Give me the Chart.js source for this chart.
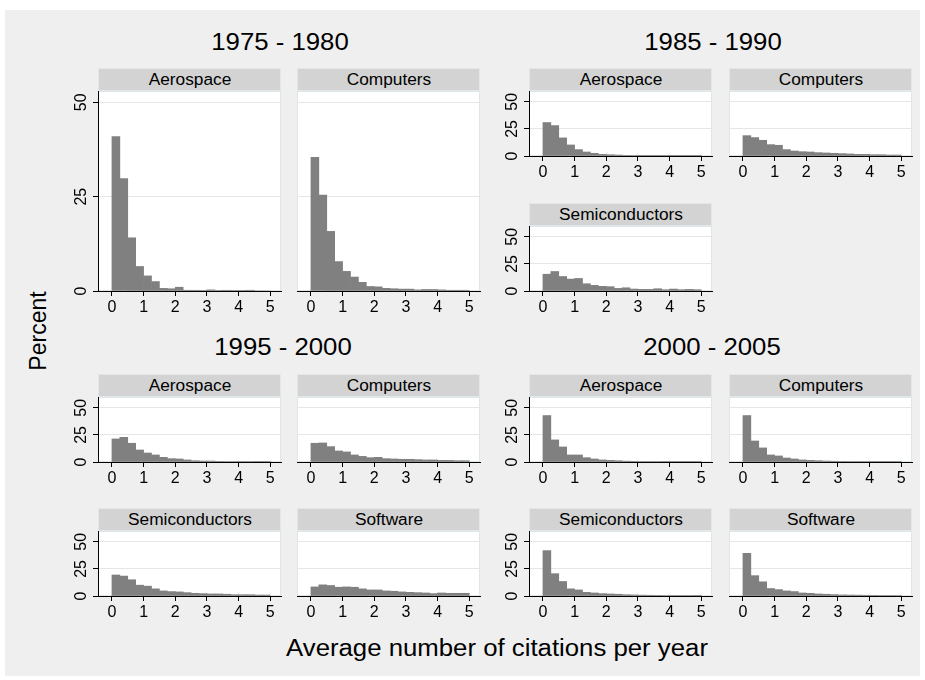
<!DOCTYPE html>
<html>
<head>
<meta charset="utf-8">
<title>Citations per year by industry</title>
<script src="https://cdn.jsdelivr.net/npm/chart.js@4.4.0/dist/chart.umd.min.js"></script>
<style>
  body { margin: 0; background: #fff; }
  #graph { position: absolute; left: 0; top: 0; width: 925px; height: 680px; background: #fff;
           font-family: Arial, "Liberation Sans", sans-serif; overflow: hidden; }
  #region { position: absolute; left: 5px; top: 10px; width: 915px; height: 666px; background: #efefef; }
  .txt { position: absolute; white-space: nowrap; color: #000; line-height: 1; }
  .strip { position: absolute; background: #d3d3d3; border: 1px solid #e2e8ea; box-sizing: border-box; }
  .strip span { position: absolute; left: 50%; top: 50%; white-space: nowrap; font-size: 16px; line-height: 1;
                transform: translate(-50%, -50%) scaleX(1.08); }
  canvas { position: absolute; }
</style>
</head>
<body>
<div id="graph"><div id="region"></div></div>
<script>
// histogram bins: 20 bins of width 0.25 on [0, 5]
const binStarts = [0, 0.25, 0.5, 0.75, 1, 1.25, 1.5, 1.75, 2, 2.25, 2.5, 2.75, 3, 3.25, 3.5, 3.75, 4, 4.25, 4.5, 4.75];
const binWidth = 0.25;
const xTicks = [0, 1, 2, 3, 4, 5];
const yTicks = [0, 25, 50];

const periods = ['1975 - 1980', '1985 - 1990', '1995 - 2000', '2000 - 2005'];
const industries = ['Aerospace', 'Computers', 'Semiconductors', 'Software'];

// percent of patents per bin
const aero7580 = [40.9, 29.8, 14.1, 6.5, 4.0, 2.5, 0.7, 0.6, 1.0, 0.2, 0.2, 0.1, 0.3, 0.1, 0.2, 0.1, 0.1, 0.2, 0.0, 0.0];
const comp7580 = [35.4, 25.4, 15.8, 7.8, 5.2, 3.7, 2.3, 1.2, 1.1, 0.7, 0.6, 0.5, 0.5, 0.3, 0.4, 0.4, 0.3, 0.2, 0.2, 0.2];

const aero8590 = [30.9, 28.1, 16.7, 10.2, 5.9, 3.7, 2.5, 1.5, 1.2, 0.9, 0.6, 0.4, 0.3, 0.3, 0.2, 0.2, 0.2, 0.2, 0.3, 0.1];
const comp8590 = [18.8, 17.0, 14.5, 10.5, 9.9, 5.9, 4.6, 4.0, 3.7, 3.1, 2.8, 2.5, 2.2, 1.9, 1.5, 1.5, 1.2, 1.2, 0.9, 0.9];
const semi8590 = [15.5, 18.0, 13.4, 11.0, 11.6, 6.7, 5.2, 4.3, 4.0, 2.4, 3.0, 1.8, 1.5, 1.5, 2.1, 1.2, 1.8, 1.2, 1.5, 1.2];

const aero9500 = [21.3, 22.8, 17.3, 11.1, 8.3, 6.5, 4.3, 3.1, 2.8, 1.9, 1.2, 0.9, 0.9, 0.6, 0.5, 0.5, 0.4, 0.4, 0.3, 0.3];
const comp9500 = [17.3, 17.6, 14.2, 10.2, 9.3, 6.5, 5.2, 4.0, 4.3, 3.1, 2.8, 2.5, 2.5, 2.2, 1.9, 1.9, 1.5, 1.5, 1.2, 1.2];
const semi9500 = [19.4, 18.4, 15.0, 10.0, 9.1, 6.6, 4.7, 4.1, 3.8, 3.1, 2.5, 2.2, 1.9, 1.9, 1.6, 1.2, 1.2, 1.2, 0.9, 0.9];
const soft9500 = [8.4, 10.3, 9.7, 8.1, 8.4, 8.1, 6.6, 5.6, 5.6, 4.7, 4.4, 3.8, 3.4, 3.1, 2.8, 2.2, 2.8, 2.5, 2.5, 2.5];

const aero0005 = [42.9, 20.4, 13.9, 6.5, 6.5, 4.0, 2.8, 1.9, 1.5, 1.2, 0.8, 0.6, 0.5, 0.4, 0.4, 0.3, 0.3, 0.3, 0.2, 0.2];
const comp0005 = [42.9, 19.4, 13.0, 6.5, 5.6, 3.7, 2.8, 1.9, 1.5, 1.2, 0.9, 0.7, 0.6, 0.5, 0.4, 0.4, 0.3, 0.3, 0.3, 0.2];
const semi0005 = [41.9, 20.6, 13.4, 6.6, 5.6, 3.4, 2.8, 2.2, 1.9, 1.6, 1.2, 1.0, 0.8, 0.7, 0.6, 0.5, 0.5, 0.4, 0.4, 0.3];
const soft0005 = [39.4, 18.8, 13.1, 6.9, 5.9, 4.7, 4.1, 2.8, 2.5, 1.9, 1.6, 1.3, 1.0, 0.9, 0.8, 0.7, 0.6, 0.5, 0.5, 0.4];

const barColor = '#808080';
const gridColor = '#e6e6e6';
const fontFamily = 'Arial, "Liberation Sans", sans-serif';

// plot rectangles (left, top, width, height) for each small multiple
const panels = [
  { name: industries[0], values: aero7580, left: 98,  top: 91,  w: 183, h: 200, ymax: 53, yAxis: true },
  { name: industries[1], values: comp7580, left: 297, top: 91,  w: 183, h: 200, ymax: 53, yAxis: false },
  { name: industries[0], values: aero8590, left: 529, top: 91,  w: 183, h: 65,  ymax: 60, yAxis: true },
  { name: industries[1], values: comp8590, left: 729, top: 91,  w: 183, h: 65,  ymax: 60, yAxis: false },
  { name: industries[2], values: semi8590, left: 529, top: 226, w: 183, h: 65,  ymax: 60, yAxis: true },
  { name: industries[0], values: aero9500, left: 98,  top: 397, w: 183, h: 65,  ymax: 60, yAxis: true },
  { name: industries[1], values: comp9500, left: 297, top: 397, w: 183, h: 65,  ymax: 60, yAxis: false },
  { name: industries[2], values: semi9500, left: 98,  top: 531, w: 183, h: 65,  ymax: 60, yAxis: true },
  { name: industries[3], values: soft9500, left: 297, top: 531, w: 183, h: 65,  ymax: 60, yAxis: false },
  { name: industries[0], values: aero0005, left: 529, top: 397, w: 183, h: 65,  ymax: 60, yAxis: true },
  { name: industries[1], values: comp0005, left: 729, top: 397, w: 183, h: 65,  ymax: 60, yAxis: false },
  { name: industries[2], values: semi0005, left: 529, top: 531, w: 183, h: 65,  ymax: 60, yAxis: true },
  { name: industries[3], values: soft0005, left: 729, top: 531, w: 183, h: 65,  ymax: 60, yAxis: false }
];

const graph = document.getElementById('graph');

function addText(str, cx, cy, size, extra) {
  const d = document.createElement('div');
  d.className = 'txt';
  d.textContent = str;
  d.style.left = cx + 'px';
  d.style.top = cy + 'px';
  d.style.fontSize = size + 'px';
  d.style.transform = 'translate(-50%, -50%) ' + (extra || '');
  graph.appendChild(d);
}

addText(periods[0], 280, 42, 23, 'scaleX(1.12)');
addText(periods[1], 713, 42, 23, 'scaleX(1.12)');
addText(periods[2], 283, 347, 23, 'scaleX(1.12)');
addText(periods[3], 712, 347, 23, 'scaleX(1.12)');
addText('Percent', 38, 331, 23, 'rotate(-90deg)');
addText('Average number of citations per year', 497, 648, 23, 'scaleX(1.12)');

// white plot region behind the bars
const plotBg = {
  id: 'plotBg',
  beforeDraw(chart) {
    const { ctx, chartArea: a } = chart;
    ctx.save();
    ctx.fillStyle = '#fff';
    ctx.fillRect(a.left, a.top, a.right - a.left, a.bottom - a.top);
    ctx.strokeStyle = '#dfe6e9';
    ctx.lineWidth = 1;
    ctx.strokeRect(a.left + 0.5, a.top + 0.5, a.right - a.left - 1, a.bottom - a.top - 1);
    ctx.restore();
  }
};

// vertical tick labels on the y axis
const yLabels = {
  id: 'yLabels',
  afterDraw(chart, args, opts) {
    if (!opts.show) return;
    const { ctx, chartArea, scales } = chart;
    ctx.save();
    ctx.font = '16px ' + fontFamily;
    ctx.fillStyle = '#000';
    ctx.textAlign = 'center';
    ctx.textBaseline = 'middle';
    yTicks.forEach(v => {
      const py = scales.y.getPixelForValue(v);
      ctx.save();
      ctx.translate(chartArea.left - 16, py);
      ctx.rotate(-Math.PI / 2);
      ctx.fillText(String(v), 0, 0);
      ctx.restore();
    });
    ctx.restore();
  }
};

function makePanel(p) {
  const padL = 32, padR = 6, padB = 30;

  const strip = document.createElement('div');
  strip.className = 'strip';
  strip.style.left = p.left + 'px';
  strip.style.top = (p.top - 23) + 'px';
  strip.style.width = p.w + 'px';
  strip.style.height = '23px';
  const lab = document.createElement('span');
  lab.textContent = p.name;
  strip.appendChild(lab);
  graph.appendChild(strip);

  const cv = document.createElement('canvas');
  cv.width = p.w + padL + padR;
  cv.height = p.h + padB;
  cv.style.left = (p.left - padL) + 'px';
  cv.style.top = p.top + 'px';
  graph.appendChild(cv);

  new Chart(cv, {
    type: 'bar',
    data: {
      datasets: [{
        data: binStarts.map((b, i) => ({ x: b + binWidth / 2, y: p.values[i] })),
        backgroundColor: barColor,
        borderWidth: 0,
        barPercentage: 1,
        categoryPercentage: 1
      }]
    },
    options: {
      responsive: false,
      animation: false,
      events: [],
      layout: { padding: { left: 0, right: padR, top: 0, bottom: 0 } },
      plugins: {
        legend: { display: false },
        tooltip: { enabled: false },
        yLabels: { show: p.yAxis }
      },
      scales: {
        x: {
          type: 'linear',
          min: -0.44,
          max: 5.34,
          offset: false,
          z: 1,
          afterBuildTicks: s => { s.ticks = xTicks.map(v => ({ value: v })); },
          afterFit: s => { s.height = padB; },
          grid: { offset: false, drawOnChartArea: false, drawTicks: true, tickLength: 5, tickColor: '#000' },
          border: { display: true, color: '#000', width: 1 },
          ticks: { color: '#000', font: { family: fontFamily, size: 16 }, padding: 2,
                   maxRotation: 0, autoSkip: false }
        },
        y: {
          min: 0,
          max: p.ymax,
          afterBuildTicks: s => { s.ticks = yTicks.map(v => ({ value: v })); },
          afterFit: s => { s.width = padL; },
          grid: {
            color: ctx => (ctx.tick && ctx.tick.value === 0) ? 'rgba(0,0,0,0)' : gridColor,
            lineWidth: 1,
            drawTicks: p.yAxis,
            tickLength: 5,
            tickColor: '#000'
          },
          border: { display: p.yAxis, color: '#000', width: 1 },
          ticks: { display: false }
        }
      }
    },
    plugins: [plotBg, yLabels]
  });
}

panels.forEach(makePanel);
</script>
</body>
</html>
